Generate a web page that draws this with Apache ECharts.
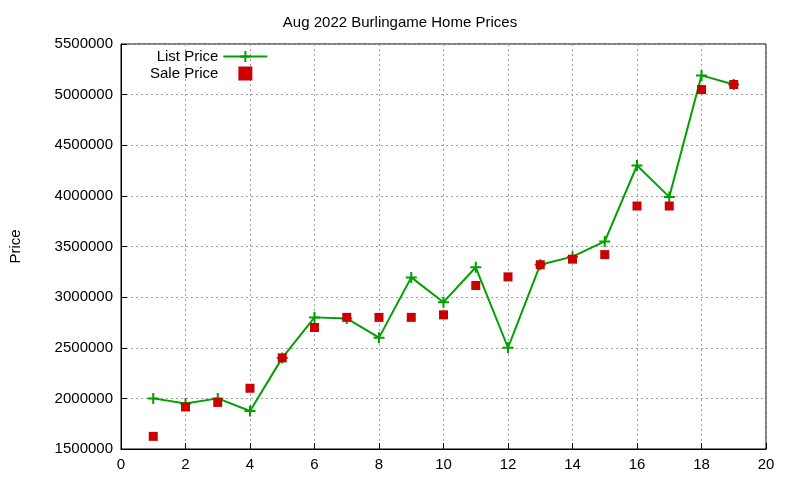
<!DOCTYPE html><html><head><meta charset="utf-8"><script src="https://cdn.jsdelivr.net/npm/echarts@6/dist/echarts.min.js"></script></head><body style="margin:0"><div id="c" style="width:800px;height:480px"></div><script>
const xs=[1,2,3,4,5,6,7,8,9,10,11,12,13,14,15,16,17,18,19];
const listPrice=[2000000,1950000,2000000,1875000,2400000,2800000,2790000,2600000,3195000,2950000,3295000,2500000,3320000,3400000,3550000,4300000,3990000,5190000,5100000];
const salePrice=[1625000,1915000,1960000,2100000,2400000,2700000,2800000,2800000,2800000,2825000,3115000,3200000,3320000,3375000,3420000,3900000,3900000,5050000,5100000];
const c=echarts.init(document.getElementById('c'));
const ax={axisLine:{show:true,onZero:false,lineStyle:{color:'#000'}},axisTick:{inside:true,length:6,lineStyle:{color:'#000'}},splitLine:{show:true,lineStyle:{color:'#a0a0a0',type:[2,3]}},axisLabel:{color:'#000',fontSize:15,fontFamily:'Liberation Sans'}};
c.setOption({animation:false,
title:{text:'Aug 2022 Burlingame Home Prices',left:'center',top:10,textStyle:{fontSize:15,fontWeight:'normal',fontFamily:'Liberation Sans',color:'#000'}},
legend:{left:145,top:44,orient:'vertical',align:'right',itemGap:2,itemWidth:44,textStyle:{fontSize:15,fontFamily:'Liberation Sans',color:'#000'},data:['List Price',{name:'Sale Price',icon:'path://M0,0H1V1H0Z'}]},
grid:{left:120,right:34,top:44,bottom:31,show:true,borderColor:'#000',borderWidth:1},
xAxis:Object.assign({type:'value',min:0,max:20,interval:2},ax),
yAxis:Object.assign({type:'value',min:1500000,max:5500000,interval:500000,name:'Price',nameLocation:'middle',nameGap:98,nameTextStyle:{fontSize:15,fontFamily:'Liberation Sans',color:'#000'}},ax,{axisLabel:Object.assign({},ax.axisLabel,{formatter:v=>String(v)})}),
series:[{name:'List Price',type:'line',z:2,data:xs.map((x,i)=>[x,listPrice[i]]),symbol:'path://M-1,0H1M0,-1V1',symbolSize:11,itemStyle:{color:'#00a000',borderColor:'#00a000',borderWidth:2},lineStyle:{color:'#00a000',width:2}},
{name:'Sale Price',type:'scatter',z:3,data:xs.map((x,i)=>[x,salePrice[i]]),symbol:'rect',symbolSize:9,itemStyle:{color:'#cc0000',opacity:1}}]});
</script></body></html>
